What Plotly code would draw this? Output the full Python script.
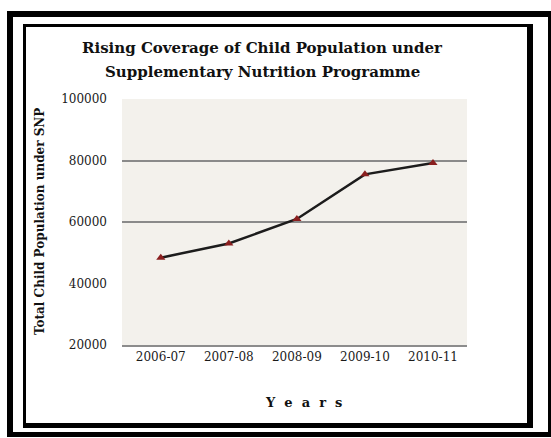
import plotly.graph_objects as go

years = ["2006-07", "2007-08", "2008-09", "2009-10", "2010-11"]
children = [48400, 53000, 61000, 75500, 79200]
y_ticks = [20000, 40000, 60000, 80000, 100000]
grid_values = [60000, 80000]
title_lines = ["Rising Coverage of Child Population under", "Supplementary Nutrition Programme"]
y_title = "Total Child Population under SNP"
x_title = "Y e a r s"

W, H = 551, 438
L, R, T, B = 122, 467, 99, 345

def px(x):
    return (x - L) / (R - L)

def py(y):
    return (B - y) / (B - T)

serif = "DejaVu Serif, serif"

fig = go.Figure()
fig.add_trace(go.Scatter(
    x=list(range(len(years))), y=children, mode="lines+markers",
    line=dict(color="#1c1c1c", width=2.5),
    marker=dict(symbol="triangle-up", size=8, color="#8a1f1f"),
    showlegend=False,
))
fig.add_trace(go.Scatter(x=[None], y=[None], xaxis="x2", yaxis="y2", showlegend=False))

shapes = []
def rect(x0, y0, x1, y1, color="black"):
    shapes.append(dict(type="rect", xref="paper", yref="paper",
                       x0=px(x0), x1=px(x1), y0=py(y0), y1=py(y1),
                       fillcolor=color, line=dict(width=0), layer="above"))

# outer thick frame
rect(7, 11, 551, 17)
rect(7, 11, 13, 437)
rect(548, 11, 551, 437)
rect(7, 432, 551, 437)
# inner box: thin top/left, thicker right/bottom
rect(23, 24, 530, 27)
rect(23, 24, 26, 428)
rect(527, 24, 533, 428)
rect(23, 423, 533, 428)

annotations = [
    dict(text="<b>%s</b>" % title_lines[0], x=px(262), y=py(48), xref="paper", yref="paper",
         showarrow=False, font=dict(family=serif, size=15, color="#111"), xanchor="center", yanchor="middle"),
    dict(text="<b>%s</b>" % title_lines[1], x=px(262), y=py(72), xref="paper", yref="paper",
         showarrow=False, font=dict(family=serif, size=15, color="#111"), xanchor="center", yanchor="middle"),
    dict(text="<b>%s</b>" % y_title, x=px(40), y=py(222), xref="paper", yref="paper", textangle=-90,
         showarrow=False, font=dict(family=serif, size=12, color="#111"), xanchor="center", yanchor="middle"),
    dict(text="<b>%s</b>" % x_title.replace(" ", "\u00a0\u00a0"), x=px(303), y=py(402), xref="paper", yref="paper",
         showarrow=False, font=dict(family=serif, size=13, color="#111"), xanchor="center", yanchor="middle"),
]

fig.update_layout(
    width=W, height=H,
    margin=dict(l=L, r=W - R, t=T, b=H - B, pad=0),
    paper_bgcolor="white", plot_bgcolor="#f3f1ec",
    xaxis=dict(range=[-0.57, 4.5], tickvals=list(range(len(years))), ticktext=years,
               showgrid=False, zeroline=False, showline=True, linecolor="#8c8c8c", linewidth=2,
               ticks="", tickfont=dict(family=serif, size=12, color="#1a1a1a")),
    yaxis=dict(range=[20000, 100000], tickvals=y_ticks, ticktext=[str(v) for v in y_ticks],
               showgrid=False, zeroline=False, showline=False, ticks="",
               ticklabelstandoff=14,
               tickfont=dict(family=serif, size=12, color="#1a1a1a")),
    xaxis2=dict(range=[-0.57, 4.5], overlaying="x", visible=False),
    yaxis2=dict(range=[20000, 100000], overlaying="y", tickvals=grid_values, showticklabels=False,
                showgrid=True, gridcolor="#8a8a8a", gridwidth=2, zeroline=False, showline=False),
    shapes=shapes, annotations=annotations,
)
fig.write_html("out.html")
